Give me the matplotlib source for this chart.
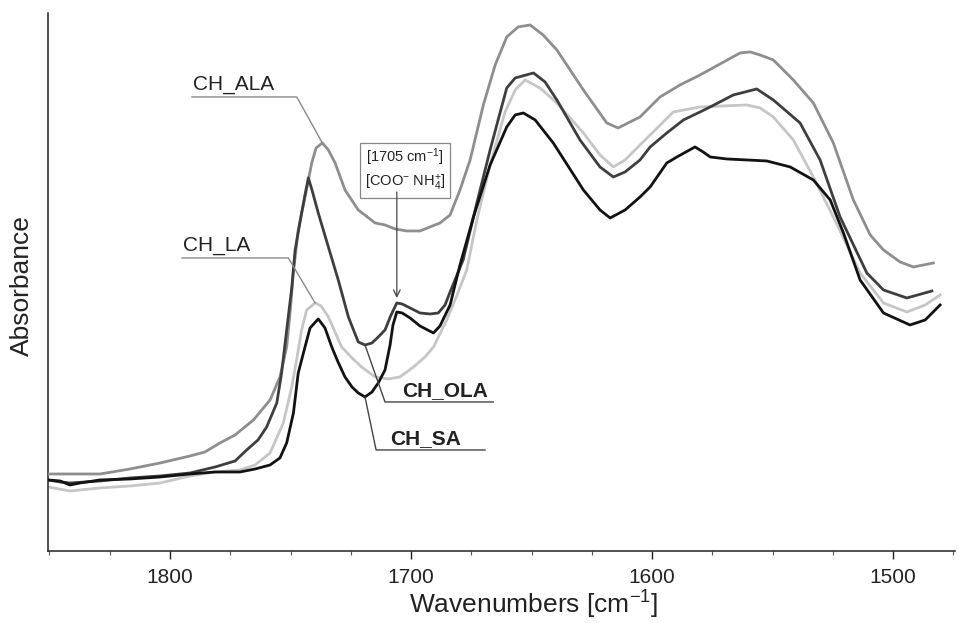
import matplotlib
matplotlib.use("Agg")
import matplotlib.pyplot as plt
import numpy as np
from matplotlib.ticker import MultipleLocator, NullLocator

plt.rcParams['font.family'] = ['Liberation Sans', 'DejaVu Sans']
plt.rcParams['mathtext.fontset'] = 'custom'
plt.rcParams['mathtext.rm'] = 'Liberation Sans'
plt.rcParams['mathtext.it'] = 'Liberation Sans'

# spectra (wavenumber in cm-1, absorbance in arbitrary units)
sa_wn = [1850.6, 1845.6, 1841.5, 1837.3, 1829.0, 1816.6, 1804.1, 1791.7, 1781.3, 1771.0,
         1764.7, 1758.5, 1754.4, 1751.6, 1748.8, 1746.8, 1744.0, 1741.9, 1738.5, 1735.7,
         1732.9, 1730.3, 1727.4, 1724.5, 1721.9, 1719.1, 1716.2, 1713.6, 1710.8, 1708.7,
         1707.5, 1705.9, 1703.7, 1700.4, 1696.3, 1690.7, 1688.0, 1683.8, 1679.7, 1674.1,
         1667.2, 1660.3, 1656.8, 1653.4, 1648.5, 1641.0, 1628.5, 1621.6, 1617.4, 1611.2,
         1605.0, 1600.8, 1593.9, 1589.7, 1582.2, 1578.8, 1575.9, 1569.0, 1552.4, 1542.7,
         1533.1, 1526.1, 1520.6, 1513.7, 1504.0, 1493.0, 1486.7, 1480.5]
sa_abs = [0.71, 0.70, 0.66, 0.68, 0.71, 0.72, 0.74, 0.77, 0.79, 0.79,
          0.82, 0.86, 0.93, 1.08, 1.38, 1.78, 2.04, 2.23, 2.32, 2.23,
          2.04, 1.89, 1.74, 1.64, 1.58, 1.54, 1.59, 1.68, 1.81, 2.06,
          2.26, 2.39, 2.38, 2.33, 2.25, 2.18, 2.25, 2.46, 2.86, 3.34,
          3.86, 4.24, 4.36, 4.38, 4.31, 4.08, 3.61, 3.41, 3.33, 3.41,
          3.54, 3.64, 3.88, 3.94, 4.04, 3.99, 3.94, 3.92, 3.90, 3.84,
          3.71, 3.51, 3.18, 2.71, 2.38, 2.26, 2.31, 2.46]

ola_wn = [1850.6, 1845.6, 1841.5, 1829.0, 1816.6, 1804.1, 1791.7, 1781.3, 1773.0, 1768.2,
          1763.5, 1759.9, 1755.7, 1753.7, 1751.6, 1749.5, 1748.1, 1745.4, 1744.0, 1742.6,
          1741.1, 1738.5, 1734.3, 1730.2, 1726.0, 1721.9, 1719.1, 1716.2, 1713.6, 1710.8,
          1708.3, 1705.9, 1703.7, 1700.4, 1696.3, 1692.1, 1688.7, 1685.9, 1683.8, 1678.4,
          1672.7, 1667.2, 1663.1, 1660.3, 1656.8, 1649.2, 1644.4, 1639.5, 1629.9, 1621.6,
          1616.1, 1611.2, 1605.0, 1600.8, 1593.9, 1587.0, 1580.1, 1575.9, 1566.3, 1561.4,
          1556.6, 1549.7, 1538.6, 1530.3, 1522.0, 1510.9, 1504.0, 1494.3, 1483.9]
ola_abs = [0.71, 0.69, 0.68, 0.70, 0.73, 0.75, 0.78, 0.84, 0.90, 1.01,
           1.11, 1.24, 1.48, 1.78, 2.21, 2.63, 3.01, 3.38, 3.56, 3.73,
           3.61, 3.38, 3.04, 2.71, 2.34, 2.09, 2.06, 2.08, 2.14, 2.21,
           2.36, 2.48, 2.47, 2.43, 2.38, 2.37, 2.38, 2.46, 2.59, 2.91,
           3.48, 4.01, 4.38, 4.63, 4.73, 4.78, 4.69, 4.51, 4.11, 3.84,
           3.74, 3.79, 3.91, 4.04, 4.18, 4.31, 4.39, 4.44, 4.56, 4.59,
           4.62, 4.51, 4.28, 3.91, 3.34, 2.78, 2.61, 2.53, 2.60]

la_wn = [1850.6, 1841.5, 1829.0, 1816.6, 1804.1, 1791.7, 1781.3, 1771.0, 1764.7, 1758.5,
         1753.0, 1749.5, 1747.7, 1745.4, 1743.3, 1739.8, 1737.3, 1734.3, 1728.8, 1724.5,
         1720.5, 1714.9, 1709.4, 1704.6, 1699.0, 1694.2, 1690.7, 1685.2, 1680.9, 1676.9,
         1672.7, 1667.2, 1661.0, 1656.8, 1652.7, 1646.5, 1639.5, 1628.5, 1621.6, 1616.1,
         1611.2, 1605.0, 1600.8, 1591.2, 1580.1, 1560.7, 1555.2, 1549.7, 1541.4, 1533.1,
         1524.8, 1513.7, 1504.0, 1494.3, 1486.7, 1480.5]
la_abs = [0.64, 0.60, 0.63, 0.65, 0.68, 0.75, 0.79, 0.81, 0.86, 0.98,
          1.28, 1.64, 1.88, 2.21, 2.41, 2.48, 2.45, 2.34, 2.04, 1.93,
          1.84, 1.74, 1.72, 1.74, 1.84, 1.94, 2.04, 2.31, 2.56, 2.81,
          3.31, 3.86, 4.39, 4.61, 4.71, 4.63, 4.48, 4.18, 3.96, 3.84,
          3.91, 4.06, 4.16, 4.39, 4.44, 4.46, 4.43, 4.34, 4.11, 3.74,
          3.34, 2.78, 2.48, 2.39, 2.46, 2.56]

ala_wn = [1850.6, 1841.5, 1829.0, 1816.6, 1804.1, 1791.7, 1785.5, 1779.3, 1773.0, 1765.4,
          1758.5, 1754.4, 1751.6, 1750.2, 1748.8, 1746.8, 1744.0, 1741.2, 1739.4, 1736.8,
          1734.3, 1731.5, 1727.4, 1721.9, 1714.9, 1710.8, 1706.6, 1701.8, 1696.3, 1688.0,
          1683.8, 1679.7, 1675.5, 1670.0, 1665.1, 1660.3, 1655.6, 1650.6, 1645.2, 1639.5,
          1628.5, 1618.8, 1614.1, 1605.0, 1596.7, 1588.4, 1580.1, 1563.5, 1559.3, 1555.2,
          1549.7, 1541.4, 1533.1, 1524.8, 1516.5, 1509.5, 1504.0, 1497.1, 1491.6, 1483.3]
ala_abs = [0.77, 0.77, 0.77, 0.82, 0.88, 0.95, 0.99, 1.08, 1.16, 1.31,
           1.51, 1.74, 2.04, 2.38, 2.79, 3.21, 3.54, 3.88, 4.03, 4.08,
           4.01, 3.88, 3.61, 3.41, 3.28, 3.26, 3.22, 3.20, 3.20, 3.28,
           3.36, 3.61, 3.91, 4.46, 4.86, 5.14, 5.24, 5.26, 5.16, 5.01,
           4.61, 4.28, 4.23, 4.34, 4.54, 4.66, 4.76, 4.98, 4.99, 4.96,
           4.91, 4.71, 4.48, 4.08, 3.51, 3.16, 3.01, 2.89, 2.84, 2.88]

names = ['CH_ALA', 'CH_LA', 'CH_OLA', 'CH_SA']
colors = {'CH_ALA': '#8e8e8e', 'CH_LA': '#c6c6c6', 'CH_OLA': '#3e3e3e', 'CH_SA': '#121212'}


def window_point(wn, ab, lo, hi, pick):
    """Return the (wn, abs) point of max/min absorbance between lo and hi."""
    wn = np.array(wn)
    ab = np.array(ab)
    mask = (wn >= lo) & (wn <= hi)
    idx = np.where(mask)[0]
    k = idx[np.argmax(ab[idx])] if pick == 'max' else idx[np.argmin(ab[idx])]
    return wn[k], ab[k]


fig = plt.figure(figsize=(9.59, 6.23), dpi=100)
ax = fig.add_axes([0.0501, 0.1156, 0.9458, 0.8636])

ax.plot(la_wn, la_abs, color=colors['CH_LA'], lw=2.0, zorder=2)
ax.plot(ala_wn, ala_abs, color=colors['CH_ALA'], lw=2.0, zorder=3)
ax.plot(ola_wn, ola_abs, color=colors['CH_OLA'], lw=2.0, zorder=4)
ax.plot(sa_wn, sa_abs, color=colors['CH_SA'], lw=2.0, zorder=5)

ax.set_xlim(1850.6, 1474.3)
ax.set_ylim(0, 5.38)

for side in ['top', 'right']:
    ax.spines[side].set_visible(False)
for side in ['left', 'bottom']:
    ax.spines[side].set_linewidth(1.1)
    ax.spines[side].set_color('#222222')

ax.xaxis.set_major_locator(MultipleLocator(100))
ax.xaxis.set_minor_locator(MultipleLocator(25))
ax.yaxis.set_major_locator(NullLocator())
ax.tick_params(axis='x', which='major', direction='out', length=6, width=1.0,
               labelsize=15, pad=6, colors='#222222')
ax.tick_params(axis='x', which='minor', direction='out', length=3, width=0.8,
               colors='#555555')

ax.set_xlabel('Wavenumbers [cm$^{-1}$]', fontsize=19, color='#222222')
ax.xaxis.set_label_coords(0.535, -0.07)
ax.set_ylabel('Absorbance', fontsize=19, color='#222222')
ax.yaxis.set_label_coords(-0.016, 0.494)

# labels with leader lines
ala_pk = window_point(ala_wn, ala_abs, 1725, 1760, 'max')
la_pk = window_point(la_wn, la_abs, 1725, 1760, 'max')
ola_min = window_point(ola_wn, ola_abs, 1712, 1720, 'min')
sa_min = window_point(sa_wn, sa_abs, 1712, 1725, 'min')
ola_sub = window_point(ola_wn, ola_abs, 1700, 1712, 'max')

ax.plot([1790.9, 1747.4, ala_pk[0]], [4.54, 4.54, ala_pk[1]], color='#8a8a8a', lw=1.0, zorder=6)
ax.text(1790.5, 4.61, 'CH_ALA', fontsize=15, color='#222222')

ax.plot([1795.0, 1750.9, la_pk[0]], [2.93, 2.93, la_pk[1]], color='#8a8a8a', lw=1.0, zorder=6)
ax.text(1794.6, 3.00, 'CH_LA', fontsize=15, color='#222222')

ax.plot([ola_min[0], 1710.8, 1665.9], [ola_min[1], 1.49, 1.49], color='#444444', lw=1.0, zorder=6)
ax.text(1703.7, 1.55, 'CH_OLA', fontsize=15, fontweight='bold', color='#222222')

ax.plot([sa_min[0], 1714.5, 1669.3], [sa_min[1], 1.01, 1.01], color='#444444', lw=1.0, zorder=6)
ax.text(1708.7, 1.07, 'CH_SA', fontsize=15, fontweight='bold', color='#222222')

# 1705 band marker
ax.text(1702.5, 3.81, '[1705 cm$^{-1}$]\n[COO$^{-}$ NH$_4^{+}$]', fontsize=10.5,
        ha='center', va='center', color='#222222', linespacing=1.35, zorder=7,
        bbox=dict(boxstyle='square,pad=0.3', fc='white', ec='#888888', lw=0.9))
ax.annotate('', xy=(ola_sub[0], ola_sub[1] + 0.05), xytext=(ola_sub[0], 3.59),
            arrowprops=dict(arrowstyle='->', color='#444444', lw=0.9,
                            mutation_scale=12, shrinkA=0, shrinkB=0), zorder=7)

fig.savefig('out.png', dpi=100)
